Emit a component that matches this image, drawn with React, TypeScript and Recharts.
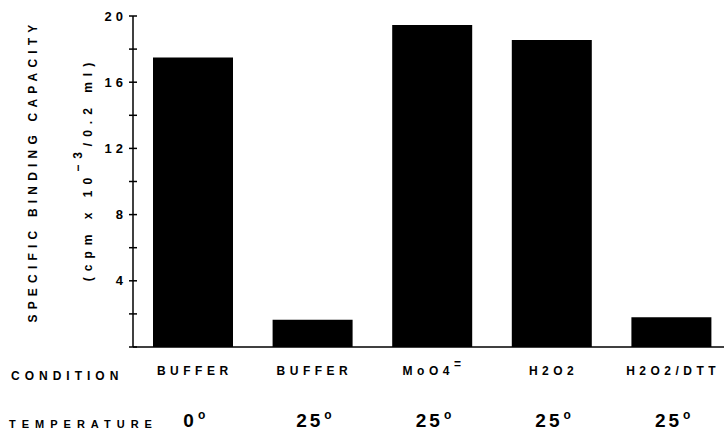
import React from 'react';
import { BarChart, Bar, XAxis, YAxis, Label } from 'recharts';

const conditions = ['BUFFER', 'BUFFER', 'MoO4', 'H2O2', 'H2O2/DTT'];
const temperatures = ['0', '25', '25', '25', '25'];
const bindingCapacity = [17.5, 1.65, 19.45, 18.55, 1.8];
const yTicks = [0, 2, 4, 6, 8, 10, 12, 14, 16, 18, 20];
const labelledTicks = [4, 8, 12, 16, 20];
const boundaryTicks = [0, 1, 2, 3, 4, 5];

const FONT = '"Liberation Sans", Arial, sans-serif';
const Y_TICK_GAP = 9;

const chartData = conditions.map((c, i) => ({
  id: i,
  condition: c,
  temperature: temperatures[i],
  capacity: bindingCapacity[i],
}));

const YTick = (props: any) => {
  const { x, y, payload } = props;
  const axisX = x + Y_TICK_GAP;
  const show = labelledTicks.includes(payload.value);
  return (
    <g>
      <line x1={axisX - 4} x2={axisX + 4} y1={y} y2={y} stroke="#000" strokeWidth={1.5} />
      {show && (
        <text
          x={axisX - 6}
          y={y}
          dy="0.35em"
          textAnchor="end"
          fontFamily={FONT}
          fontWeight="bold"
          fontSize={13}
          style={{ letterSpacing: 4 }}
          fill="#000"
        >
          {String(payload.value)}
        </text>
      )}
    </g>
  );
};

const BoundaryTick = (props: any) => {
  const { x, y } = props;
  return <line x1={x} x2={x} y1={y - 4} y2={y + 4} stroke="#000" strokeWidth={1.5} />;
};

const ConditionTick = (props: any) => {
  const { x, y, payload } = props;
  const i = Number(payload.value);
  const cond = conditions[i];
  return (
    <g fontFamily={FONT} fontWeight="bold" fill="#000">
      <text x={x + 2} y={y + 28} textAnchor="middle" fontSize={12} style={{ letterSpacing: 4.5 }}>
        {cond === 'MoO4' ? (
          <>
            <tspan>MoO4</tspan>
            <tspan dy={-7} fontSize={12}>=</tspan>
          </>
        ) : (
          cond
        )}
      </text>
      <text x={x + 3} y={y + 80} textAnchor="middle" fontSize={19} style={{ letterSpacing: 3 }}>
        <tspan>{temperatures[i]}</tspan>
        <tspan dy={-8} dx={1} fontSize={12}>o</tspan>
      </text>
    </g>
  );
};

const YTitle = () => (
  <g fontFamily={FONT} fontWeight="bold" fill="#000">
    <text
      x={33}
      y={171}
      transform="rotate(-90 33 171)"
      textAnchor="middle"
      dy="0.35em"
      fontSize={12}
      style={{ letterSpacing: 5.2 }}
    >
      SPECIFIC BINDING CAPACITY
    </text>
    <text
      x={88}
      y={169}
      transform="rotate(-90 88 169)"
      textAnchor="middle"
      dy="0.35em"
      fontSize={12}
      style={{ letterSpacing: 6 }}
    >
      <tspan>(cpm x 10</tspan>
      <tspan dy={-10} fontSize={12}>−3</tspan>
      <tspan dy={10}>/0.2 ml)</tspan>
    </text>
  </g>
);

const XTitles = () => (
  <g fontFamily={FONT} fontWeight="bold" fill="#000" fontSize={12}>
    <text x={11} y={380} style={{ letterSpacing: 5 }}>
      CONDITION
    </text>
    <text x={9} y={428} fontSize={11} style={{ letterSpacing: 6 }}>
      TEMPERATURE
    </text>
  </g>
);

export default function App() {
  return (
    <div
      style={{
        position: 'absolute',
        left: 0,
        top: 0,
        width: 724,
        height: 434,
        overflow: 'hidden',
        background: '#fff',
      }}
    >
      <BarChart
        width={731}
        height={434}
        data={chartData}
        margin={{ top: 16, right: 0, bottom: 0, left: 0 }}
      >
        <XAxis
          xAxisId="bounds"
          type="number"
          domain={[0, 5]}
          ticks={boundaryTicks}
          interval={0}
          allowDataOverflow
          axisLine={false}
          tickLine={false}
          tickSize={0}
          tickMargin={0}
          height={0}
          tick={<BoundaryTick />}
        />
        <XAxis
          dataKey="id"
          type="category"
          height={87}
          interval={0}
          axisLine={{ stroke: '#000', strokeWidth: 1.5 }}
          tickLine={false}
          tickSize={0}
          tickMargin={0}
          tick={<ConditionTick />}
        >
          <Label content={<XTitles />} />
        </XAxis>
        <YAxis
          width={133}
          domain={[0, 20]}
          ticks={yTicks}
          interval={0}
          axisLine={{ stroke: '#000', strokeWidth: 1.5 }}
          tickLine={false}
          tickSize={0}
          tickMargin={Y_TICK_GAP}
          tick={<YTick />}
        >
          <Label content={<YTitle />} />
        </YAxis>
        <Bar dataKey="capacity" fill="#000" barSize={80} isAnimationActive={false} />
      </BarChart>
    </div>
  );
}
